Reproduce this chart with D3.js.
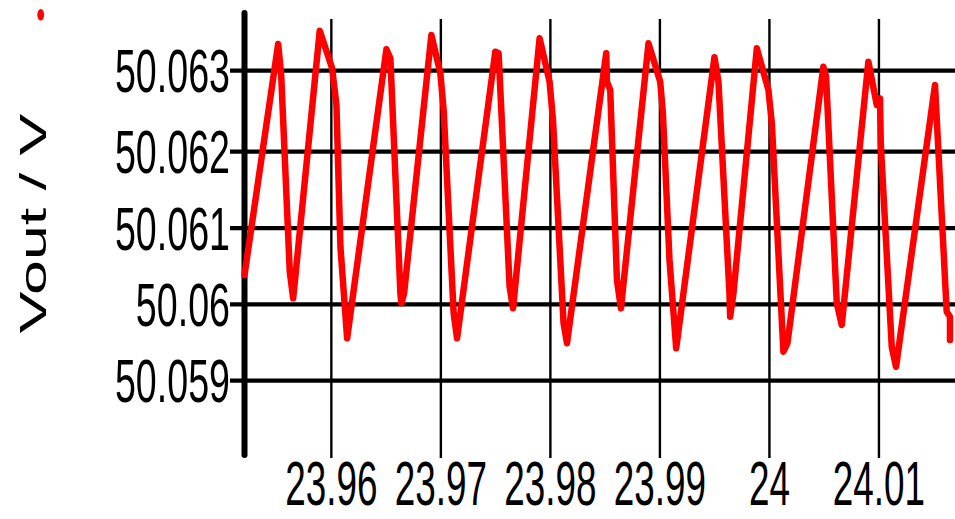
<!DOCTYPE html>
<html>
<head>
<meta charset="utf-8">
<script src="https://cdn.jsdelivr.net/npm/d3@7"></script>
<style>
  html, body { margin: 0; padding: 0; background: #ffffff; }
  svg { display: block; }
  text { font-family: "Liberation Sans", Arial, sans-serif; fill: #000; }
</style>
</head>
<body>
<svg id="chart" width="955" height="519"></svg>
<script>
// ---- data ----
const timeValues = [
  23.952071, 23.955146, 23.955420, 23.956204, 23.956515, 23.958942, 23.960073, 23.960465,
  23.960830, 23.961442, 23.965027, 23.965392, 23.966305, 23.966396, 23.966642, 23.969133,
  23.969954, 23.970255, 23.971168, 23.971478, 23.974973, 23.975274, 23.976277, 23.976588,
  23.979015, 23.979927, 23.980237, 23.981204, 23.981515, 23.985100, 23.985164, 23.985465,
  23.986077, 23.986442, 23.988960, 23.990027, 23.990274, 23.990876, 23.991487, 23.994982,
  23.995347, 23.996350, 23.996414, 23.996715, 23.998850, 23.999909, 24.000219, 24.001277,
  24.001642, 24.004927, 24.005173, 24.006150, 24.006606, 24.009033, 24.009799, 24.010100,
  24.010164, 24.011168, 24.011560, 24.015119, 24.016186, 24.016487, 24.016487
];
const voutValues = [
  50.060385, 50.063330, 50.062947, 50.060428, 50.060079, 50.063494, 50.063030, 50.062577,
  50.060755, 50.059555, 50.063264, 50.063153, 50.060145, 50.060014, 50.060145, 50.063441,
  50.062968, 50.062515, 50.059883, 50.059555, 50.063235, 50.063215, 50.060231, 50.059948,
  50.063400, 50.062864, 50.062391, 50.059752, 50.059490, 50.063215, 50.062864, 50.062762,
  50.060319, 50.059948, 50.063338, 50.062864, 50.062474, 50.060581, 50.059424, 50.063166,
  50.062864, 50.060145, 50.059838, 50.060145, 50.063277, 50.062762, 50.062351, 50.059380,
  50.059490, 50.063049, 50.062926, 50.060014, 50.059730, 50.063111, 50.062577, 50.062659,
  50.062104, 50.059445, 50.059183, 50.062824, 50.059904, 50.059838, 50.059533
];
const xTickValues = [23.96, 23.97, 23.98, 23.99, 24.00, 24.01];
const xTickLabels = ["23.96", "23.97", "23.98", "23.99", "24", "24.01"];
const yTickValues = [50.059, 50.060, 50.061, 50.062, 50.063];
const yTickLabels = ["50.059", "50.06", "50.061", "50.062", "50.063"];
const yAxisTitle = "Vout / V";
const seriesName = "";
const xDomain = [23.952071, 24.016944];
const yDomain = [50.059, 50.062, 50.063];

// ---- layout ----
const svg = d3.select("#chart");
const plotLeft = 244.5, plotRight = 955, plotTop = 19, plotBottom = 458;
const sx = 0.6;         // horizontal squeeze of the original figure
const fontSize = 62;

const x = d3.scaleLinear().domain(xDomain).range([plotLeft, plotRight]);
const y = d3.scaleLinear().domain(yDomain).range([380.7, 151.7, 70.7]);

// horizontal grid lines (with left tick stubs)
svg.append("g").selectAll("line").data(yTickValues).join("line")
  .attr("x1", 230).attr("x2", plotRight)
  .attr("y1", d => y(d)).attr("y2", d => y(d))
  .attr("stroke", "#000").attr("stroke-width", 4.2);

// vertical grid lines
svg.append("g").selectAll("line").data(xTickValues).join("line")
  .attr("x1", d => x(d)).attr("x2", d => x(d))
  .attr("y1", plotTop).attr("y2", plotBottom)
  .attr("stroke", "#000").attr("stroke-width", 2.4);

// y axis line
svg.append("line")
  .attr("x1", plotLeft).attr("x2", plotLeft)
  .attr("y1", 13).attr("y2", 455)
  .attr("stroke", "#000").attr("stroke-width", 6).attr("stroke-linecap", "round");

// y tick labels
svg.append("g").selectAll("text").data(yTickValues).join("text")
  .attr("transform", d => `translate(230,${y(d) + 21.5}) scale(${sx + 0.007},1)`)
  .attr("text-anchor", "end")
  .attr("font-size", fontSize)
  .text((d, i) => yTickLabels[i]);

// x tick labels
svg.append("g").selectAll("text").data(xTickValues).join("text")
  .attr("transform", d => `translate(${x(d)},505) scale(${sx - 0.005},1)`)
  .attr("text-anchor", "middle")
  .attr("font-size", fontSize)
  .text((d, i) => xTickLabels[i]);

// y axis title
svg.append("text")
  .attr("transform", `translate(45.5,223.5) scale(${sx},1) rotate(-90)`)
  .attr("text-anchor", "middle")
  .attr("font-size", 62.7)
  .text(yAxisTitle);

// legend marker (series name is empty)
const legend = svg.append("g").attr("transform", "translate(40.7,14.8)");
legend.append("ellipse").attr("rx", 3.4).attr("ry", 5.8).attr("fill", "#ff0000");
legend.append("text").attr("x", 10).attr("y", 6).attr("font-size", 20).text(seriesName);

// data line
const pts = timeValues.map((t, i) => [t, voutValues[i]]);
const line = d3.line().x(d => x(d[0])).y(d => y(d[1]));
svg.append("path")
  .datum(pts)
  .attr("d", line)
  .attr("fill", "none")
  .attr("stroke", "#ff0000")
  .attr("stroke-width", 6.5)
  .attr("stroke-linejoin", "round")
  .attr("stroke-linecap", "round");
</script>
</body>
</html>
